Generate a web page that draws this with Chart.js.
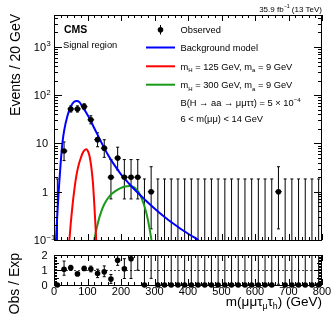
<!DOCTYPE html>
<html>
<head>
<meta charset="utf-8">
<script src="https://cdn.jsdelivr.net/npm/chart.js@4.4.1/dist/chart.umd.min.js"></script>
<style>
  html, body { margin: 0; padding: 0; background: #fff; }
  #wrap { position: relative; width: 332px; height: 319px; }
  canvas { position: absolute; left: 0; }
</style>
</head>
<body>
<div id="wrap">
  <canvas id="main" width="332" height="245" style="top:0px"></canvas>
  <canvas id="ratio" width="332" height="74" style="top:245px"></canvas>
</div>
<script>
// 20 GeV bins, bin centres
var binCentres = [10, 30, 50, 70, 90, 110, 130, 150, 170, 190, 210, 230, 250, 270, 290, 310, 330, 350, 370, 390,
                  410, 430, 450, 470, 490, 510, 530, 550, 570, 590, 610, 630, 650, 670, 690, 710, 730, 750, 770, 790];
var observed = [0, 7, 52, 52, 58, 31, 12, 8, 2, 5, 2, 2, 2, 0, 1, 0, 0, 0, 0, 0,
                0, 0, 0, 0, 0, 0, 0, 0, 0, 0, 0, 0, 0, 1, 0, 0, 0, 0, 0, 0];
// poisson 68% intervals for the counts above
var poissonBand = { 0: [0, 1.84], 1: [0.17, 3.30], 2: [0.71, 4.64], 5: [2.84, 8.38], 7: [4.42, 10.77],
                    8: [5.17, 11.98], 12: [8.56, 16.60], 31: [25.5, 37.6], 52: [44.8, 60.2], 58: [50.4, 66.6] };

// background model and signal shapes (mass in GeV, events / 20 GeV)
var bkgMass  = [6, 10, 15, 20, 25, 30, 40, 50, 60, 68, 76, 85, 95, 105, 120, 140, 160, 180, 200, 225, 250, 275, 300, 330, 360, 390, 431];
var bkgModel = [0.1, 0.35, 1.3, 4.0, 10, 18, 37, 58, 73, 76, 72, 58, 45, 34, 21, 11, 6.0, 3.6, 2.3, 1.45, 0.95, 0.65, 0.45, 0.30, 0.21, 0.15, 0.1];
var sig125Mass = [46, 50, 55, 60, 65, 70, 75, 80, 85, 90, 96, 101, 106, 111, 116, 120, 123, 126];
var sig125     = [0.1, 0.22, 0.5, 1.0, 1.8, 2.8, 3.9, 5.0, 6.2, 7.1, 7.6, 7.0, 5.5, 3.4, 1.6, 0.6, 0.25, 0.1];
var sig300Mass = [120, 127, 137, 150, 167, 182, 197, 212, 225, 238, 252, 262, 272, 280, 286, 291];
var sig300     = [0.1, 0.17, 0.32, 0.55, 0.83, 1.02, 1.17, 1.28, 1.32, 1.25, 1.0, 0.72, 0.45, 0.27, 0.16, 0.1];

// Obs / Exp (null = off scale)
var ratioVal = [0, 1.07, 1.17, 0.75, 1.12, 1.08, 0.78, 0.89, 0.4, 1.67, 1.1, 1.78, null, 0, null, 0, 0, 0, 0, 0,
                0, 0, 0, 0, 0, 0, 0, 0, 0, 0, 0, 0, 0, null, 0, 0, 0, 0, 0, 0];
var ratioLo  = [0, 0.66, 1.0, 0.68, 0.98, 0.89, 0.5, 0.56, 0.11, 1.33, 0.44, 0.44, 1.0, 0, 0.45, 0, 0, 0, 0, 0,
                0, 0, 0, 0, 0, 0, 0, 0, 0, 0, 0, 0, 0, 0.05, 0, 0, 0, 0, 0, 0];
var ratioHi  = [0, 1.62, 1.33, 0.82, 1.27, 1.28, 1.07, 1.29, 0.71, 2.6, 1.78, 4, 5, 5, 5, 5, 5, 5, 5, 5,
                5, 5, 5, 5, 5, 5, 5, 5, 5, 5, 5, 5, 5, 5, 5, 5, 5, 5, 5, 5];

var xTicks = [0, 100, 200, 300, 400, 500, 600, 700, 800];
var yTicksMain = [[0.1, '10', '-1'], [1, '1', ''], [10, '10', ''], [100, '10', '2'], [1000, '10', '3']];
var yTicksRatio = [0, 1, 2];

var FONT = '"Liberation Sans", Arial, Helvetica, sans-serif';

// draw text with sub/superscripts; parts = [[text, mode], ...]
function richText(ctx, parts, x, y, size, align, weight) {
  weight = weight || '';
  var w = 0;
  parts.forEach(function (p) {
    var s = p[1] ? size * 0.65 : size;
    ctx.font = weight + ' ' + s + 'px ' + FONT;
    w += ctx.measureText(p[0]).width;
  });
  var cx = align === 'right' ? x - w : (align === 'center' ? x - w / 2 : x);
  ctx.textAlign = 'left';
  ctx.textBaseline = 'alphabetic';
  parts.forEach(function (p) {
    var s = p[1] ? size * 0.65 : size;
    var dy = p[1] === 'sub' ? size * 0.28 : (p[1] === 'sup' ? -size * 0.42 : 0);
    ctx.font = weight + ' ' + s + 'px ' + FONT;
    ctx.fillText(p[0], cx, y + dy);
    cx += ctx.measureText(p[0]).width;
  });
}

function errBar(ctx, px, y1, y2, cap) {
  ctx.beginPath();
  ctx.moveTo(px, y1); ctx.lineTo(px, y2);
  ctx.moveTo(px - cap, y1); ctx.lineTo(px + cap, y1);
  ctx.moveTo(px - cap, y2); ctx.lineTo(px + cap, y2);
  ctx.stroke();
}

var mainErrors = {
  id: 'mainErrors',
  beforeDatasetsDraw: function (chart) {
    var ctx = chart.ctx, a = chart.chartArea, xs = chart.scales.x, ys = chart.scales.y;
    ctx.save();
    ctx.beginPath(); ctx.rect(a.left, a.top, a.right - a.left, a.bottom - a.top); ctx.clip();
    ctx.strokeStyle = '#000'; ctx.lineWidth = 1;
    binCentres.forEach(function (m, i) {
      var n = observed[i], band = poissonBand[n];
      var px = xs.getPixelForValue(m);
      var lo = band[0] > 0 ? ys.getPixelForValue(band[0]) : a.bottom + 5;
      var hi = ys.getPixelForValue(band[1]);
      errBar(ctx, px, lo, hi, 1.5);
      if (n > 0) {
        var py = ys.getPixelForValue(n);
        ctx.beginPath();
        ctx.moveTo(xs.getPixelForValue(m - 10), py);
        ctx.lineTo(xs.getPixelForValue(m + 10), py);
        ctx.stroke();
      }
    });
    ctx.restore();
  }
};

var ratioErrors = {
  id: 'ratioErrors',
  beforeDatasetsDraw: function (chart) {
    var ctx = chart.ctx, a = chart.chartArea, xs = chart.scales.x, ys = chart.scales.y;
    ctx.save();
    // reference line at 1
    ctx.strokeStyle = '#444'; ctx.lineWidth = 1; ctx.setLineDash([2, 2]);
    ctx.beginPath();
    ctx.moveTo(a.left, Math.round(ys.getPixelForValue(1)) + 0.5);
    ctx.lineTo(a.right, Math.round(ys.getPixelForValue(1)) + 0.5);
    ctx.stroke();
    ctx.setLineDash([]);
    ctx.beginPath(); ctx.rect(a.left, a.top, a.right - a.left, a.bottom - a.top); ctx.clip();
    ctx.strokeStyle = '#000';
    binCentres.forEach(function (m, i) {
      if (ratioHi[i] <= ratioLo[i]) return;
      errBar(ctx, xs.getPixelForValue(m), ys.getPixelForValue(ratioLo[i]), ys.getPixelForValue(ratioHi[i]), 1.5);
    });
    ctx.restore();
  }
};

function drawXTicks(ctx, a, xs, major, minor) {
  for (var m = 0; m <= 800; m += 20) {
    var px = Math.round(xs.getPixelForValue(m)) + 0.5;
    var len = (m % 100 === 0) ? major : minor;
    ctx.moveTo(px, a.bottom); ctx.lineTo(px, a.bottom - len);
    ctx.moveTo(px, a.top); ctx.lineTo(px, a.top + len);
  }
}

var mainFrame = {
  id: 'mainFrame',
  afterDraw: function (chart) {
    var ctx = chart.ctx, a = chart.chartArea, xs = chart.scales.x, ys = chart.scales.y;
    ctx.save();
    ctx.strokeStyle = '#000'; ctx.lineWidth = 1;
    ctx.strokeRect(a.left + 0.5, a.top + 0.5, a.right - a.left - 1, a.bottom - a.top);
    ctx.beginPath();
    drawXTicks(ctx, a, xs, 6, 3);
    for (var d = -1; d <= 3; d++) {
      for (var k = 1; k <= 9; k++) {
        var v = k * Math.pow(10, d);
        if (v > ys.max) break;
        var py = Math.round(ys.getPixelForValue(v)) + 0.5;
        var len = k === 1 ? 8 : 4;
        ctx.moveTo(a.left, py); ctx.lineTo(a.left + len, py);
        ctx.moveTo(a.right, py); ctx.lineTo(a.right - len, py);
      }
    }
    ctx.stroke();

    ctx.fillStyle = '#000';
    yTicksMain.forEach(function (t) {
      var py = ys.getPixelForValue(t[0]) + 4;
      if (t[2]) {
        ctx.font = '11px ' + FONT;
        ctx.textAlign = 'right'; ctx.textBaseline = 'alphabetic';
        ctx.fillText(t[1], 46, py);
        ctx.font = '7.5px ' + FONT; ctx.textAlign = 'left';
        ctx.fillText(t[2] === '-1' ? '\u22121' : t[2], 46.5, py - 4.5);
      } else {
        richText(ctx, [[t[1], '']], 48, py, 11, 'right');
      }
    });

    // axis title
    ctx.save();
    ctx.translate(20, 14); ctx.rotate(-Math.PI / 2);
    ctx.font = '14px ' + FONT; ctx.textAlign = 'right'; ctx.textBaseline = 'alphabetic';
    ctx.fillText('Events / 20 GeV', 0, 0);
    ctx.restore();

    richText(ctx, [['35.9 fb', ''], ['\u22121', 'sup'], [' (13 TeV)', '']], 322, 11.5, 8, 'right');
    richText(ctx, [['CMS', '']], 64, 33, 10.5, 'left', 'bold');
    richText(ctx, [['Signal region', '']], 63, 47.5, 9.3, 'left');

    // legend
    var lx = 180.5, fs = 9.3;
    ctx.beginPath(); ctx.arc(160.5, 29.7, 2.8, 0, Math.PI * 2); ctx.fill();
    ctx.beginPath(); ctx.moveTo(160.5, 25); ctx.lineTo(160.5, 34.5); ctx.stroke();
    richText(ctx, [['Observed', '']], lx, 33, fs, 'left');
    var rows = [
      ['#0000ff', 47.5, [['Background model', '']]],
      ['#ff0000', 66.3, [['m', ''], ['H', 'sub'], [' = 125 GeV, m', ''], ['a', 'sub'], [' = 9 GeV', '']]],
      ['#1a9a1a', 84.7, [['m', ''], ['H', 'sub'], [' = 300 GeV, m', ''], ['a', 'sub'], [' = 9 GeV', '']]]
    ];
    rows.forEach(function (r) {
      ctx.strokeStyle = r[0]; ctx.lineWidth = 2;
      ctx.beginPath(); ctx.moveTo(146, r[1]); ctx.lineTo(175, r[1]); ctx.stroke();
      richText(ctx, r[2], lx, r[1] + 3.3, fs, 'left');
    });
    richText(ctx, [['B(H \u2192 aa \u2192 \u03bc\u03bc\u03c4\u03c4) = 5 \u00d7 10', ''], ['\u22124', 'sup']], lx, 106.3, fs, 'left');
    richText(ctx, [['6 < m(\u03bc\u03bc) < 14 GeV', '']], lx, 121.5, fs, 'left');
    ctx.restore();
  }
};

var ratioFrame = {
  id: 'ratioFrame',
  afterDraw: function (chart) {
    var ctx = chart.ctx, a = chart.chartArea, xs = chart.scales.x, ys = chart.scales.y;
    ctx.save();
    ctx.strokeStyle = '#000'; ctx.lineWidth = 1;
    ctx.strokeRect(a.left + 0.5, a.top + 0.5, a.right - a.left - 1, a.bottom - a.top);
    ctx.beginPath();
    drawXTicks(ctx, a, xs, 6, 3);
    for (var j = 0; j <= 20; j++) {
      var v = j / 10;
      var py = Math.round(ys.getPixelForValue(v)) + 0.5;
      var len = j % 10 === 0 ? 8 : (j % 5 === 0 ? 5 : 3);
      ctx.moveTo(a.left, py); ctx.lineTo(a.left + len, py);
      ctx.moveTo(a.right, py); ctx.lineTo(a.right - len, py);
    }
    ctx.stroke();
    ctx.fillStyle = '#000';
    yTicksRatio.forEach(function (t) {
      richText(ctx, [[String(t), '']], 47.5, ys.getPixelForValue(t) + 4, 11, 'right');
    });
    xTicks.forEach(function (t) {
      richText(ctx, [[String(t), '']], xs.getPixelForValue(t), 49.5, 11, 'center');
    });
    richText(ctx, [['m(\u03bc\u03bc\u03c4', ''], ['\u03bc', 'sub'], ['\u03c4', ''], ['h', 'sub'], [') (GeV)', '']], 322, 60.5, 13.5, 'right');
    ctx.save();
    ctx.translate(18.5, 8); ctx.rotate(-Math.PI / 2);
    ctx.font = '14px ' + FONT; ctx.textAlign = 'right'; ctx.textBaseline = 'alphabetic';
    ctx.fillText('Obs / Exp', 0, 0);
    ctx.restore();
    ctx.restore();
  }
};

function curve(xsArr, ysArr, color) {
  return {
    data: xsArr.map(function (m, i) { return { x: m, y: ysArr[i] }; }),
    borderColor: color, borderWidth: 2, pointRadius: 0, fill: false,
    cubicInterpolationMode: 'monotone'
  };
}

var obsPoints = binCentres.map(function (m, i) { return { x: m, y: observed[i] > 0 ? observed[i] : null }; });

new Chart(document.getElementById('main'), {
  type: 'line',
  data: {
    datasets: [
      { data: obsPoints, showLine: false, pointRadius: 2.8, pointBackgroundColor: '#000', pointBorderWidth: 0 },
      curve(bkgMass, bkgModel, '#0000ff'),
      curve(sig125Mass, sig125, '#ff0000'),
      curve(sig300Mass, sig300, '#1a9a1a')
    ]
  },
  options: {
    responsive: false, animation: false, events: [],
    layout: { padding: { left: 54, right: 10, top: 15, bottom: 5 } },
    plugins: { legend: { display: false }, tooltip: { enabled: false } },
    scales: {
      x: { type: 'linear', min: 0, max: 800, display: false },
      y: { type: 'logarithmic', min: 0.1, max: 4600, display: false }
    }
  },
  plugins: [mainErrors, mainFrame]
});

new Chart(document.getElementById('ratio'), {
  type: 'line',
  data: {
    datasets: [{
      data: binCentres.map(function (m, i) { return { x: m, y: ratioVal[i] }; }),
      showLine: false, pointRadius: 2.8, pointBackgroundColor: '#000', pointBorderWidth: 0, clip: false
    }]
  },
  options: {
    responsive: false, animation: false, events: [],
    layout: { padding: { left: 54, right: 10, top: 10, bottom: 34 } },
    plugins: { legend: { display: false }, tooltip: { enabled: false } },
    scales: {
      x: { type: 'linear', min: 0, max: 800, display: false },
      y: { type: 'linear', min: 0, max: 2.03, display: false }
    }
  },
  plugins: [ratioErrors, ratioFrame]
});
</script>
</body>
</html>
